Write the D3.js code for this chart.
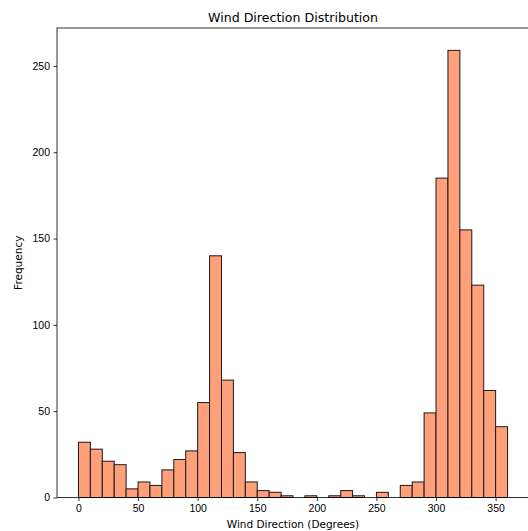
<!DOCTYPE html>
<html>
<head>
<meta charset="utf-8">
<script src="https://cdn.jsdelivr.net/npm/d3@7"></script>
<style>
  body { margin: 0; background: #fff; }
  svg { display: block; font-family: "DejaVu Sans", sans-serif; }
  .tick text { font-size: 10.5px; fill: #000; }
  .tick line { stroke: #000; stroke-width: 0.8; }
  .domain { display: none; }
</style>
</head>
<body>
<div id="chart-area"></div>
<script>
// bin start (degrees), bins are 10 degrees wide
const binStarts = [0, 10, 20, 30, 40, 50, 60, 70, 80, 90, 100, 110, 120, 130, 140, 150, 160, 170,
  180, 190, 200, 210, 220, 230, 240, 250, 260, 270, 280, 290, 300, 310, 320, 330, 340, 350];
const counts = [32, 28, 21, 19, 5, 9, 7, 16, 22, 27, 55, 140, 68, 26, 9, 4, 3, 1,
  0, 1, 0, 1, 4, 1, 0, 3, 0, 7, 9, 49, 185, 259, 155, 123, 62, 41];
const xTicks = [0, 50, 100, 150, 200, 250, 300, 350];
const yTicks = [0, 50, 100, 150, 200, 250];
const binWidth = 10;

const chartSize = { width: 528, height: 531 };
const margin = { left: 57, right: -1, top: 28, bottom: 33.5 };
const width = chartSize.width - margin.left - margin.right;
const height = chartSize.height - margin.top - margin.bottom;

const svg = d3.select("#chart-area")
  .append("svg")
  .attr("width", chartSize.width)
  .attr("height", chartSize.height);

const g = svg.append("g")
  .attr("transform", `translate(${margin.left},${margin.top})`);

const x = d3.scaleLinear().domain([-18, 378]).range([0, width]);
const yMax = d3.max(counts) * 1.05;
const y = d3.scaleLinear().domain([0, yMax]).range([height, 0]);

g.selectAll("rect.bar")
  .data(binStarts.map((b, i) => ({ b, c: counts[i] })).filter(d => d.c > 0))
  .join("rect")
  .attr("class", "bar")
  .attr("x", d => x(d.b))
  .attr("y", d => y(d.c))
  .attr("width", d => x(d.b + binWidth) - x(d.b))
  .attr("height", d => y(0) - y(d.c))
  .attr("fill", "#ffa07a")
  .attr("stroke", "#1a1a1a")
  .attr("stroke-width", 1);

g.append("g")
  .attr("transform", `translate(0,${height})`)
  .call(d3.axisBottom(x).tickValues(xTicks).tickSize(3.5).tickPadding(3.5).tickFormat(d3.format("d")));

g.append("g")
  .call(d3.axisLeft(y).tickValues(yTicks).tickSize(3.5).tickPadding(3.5).tickFormat(d3.format("d")));

// frame
g.append("rect")
  .attr("width", width)
  .attr("height", height)
  .attr("fill", "none")
  .attr("stroke", "#000")
  .attr("stroke-width", 0.8);

svg.append("text")
  .attr("x", margin.left + width / 2)
  .attr("y", 22)
  .attr("text-anchor", "middle")
  .style("font-size", "12.6px")
  .text("Wind Direction Distribution");

svg.append("text")
  .attr("x", margin.left + width / 2)
  .attr("y", 528)
  .attr("text-anchor", "middle")
  .style("font-size", "10.5px")
  .text("Wind Direction (Degrees)");

svg.append("text")
  .attr("transform", `translate(22,${margin.top + height / 2}) rotate(-90)`)
  .attr("text-anchor", "middle")
  .style("font-size", "10.5px")
  .text("Frequency");
</script>
</body>
</html>
